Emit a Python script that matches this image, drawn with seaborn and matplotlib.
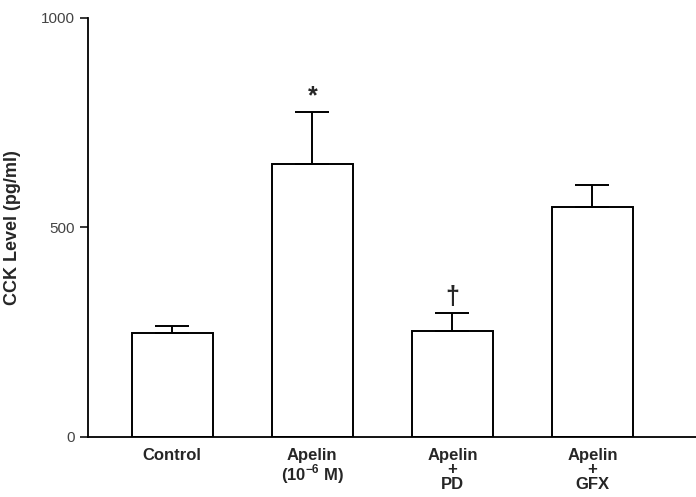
import numpy as np
import pandas as pd
import matplotlib
matplotlib.use("Agg")
import matplotlib.pyplot as plt
import seaborn as sns

# values
groups = ["Control", "Apelin\n(10$^{\\mathsf{-6}}$ M)", "Apelin\n+\nPD", "Apelin\n+\nGFX"]
cck_mean = [248, 652, 253, 549]
cck_sem = [17, 124, 43, 52]
marks = ["", "*", "\u2020", ""]

df = pd.DataFrame({"group": groups, "cck": cck_mean})

sns.set_style("ticks")
plt.rcParams["font.family"] = ["Liberation Sans", "DejaVu Sans"]
plt.rcParams["mathtext.fontset"] = "custom"
plt.rcParams["mathtext.sf"] = "Liberation Sans:bold"

fig = plt.figure(figsize=(6.96, 4.97), dpi=100)
ax = fig.add_axes([0.126, 0.121, 0.874, 0.843])

sns.barplot(data=df, x="group", y="cck", color="white", edgecolor="black",
            linewidth=1.4, width=0.58, ax=ax)

x = np.arange(len(groups))
ax.errorbar(x, cck_mean, yerr=[np.zeros(len(cck_sem)), cck_sem], fmt="none",
            ecolor="black", elinewidth=1.4, capsize=12.5, capthick=1.4)

for xi, m, s, lab in zip(x, cck_mean, cck_sem, marks):
    if lab:
        ax.text(xi, m + s + 8, lab, ha="center", va="bottom",
                fontsize=18, fontweight="bold")

ax.set_xlim(-0.604, 3.74)
ax.set_ylim(0, 1000)
ax.set_yticks([0, 500, 1000])
ax.tick_params(axis="y", length=6, width=1.3, labelsize=11, labelcolor="#444444")
ax.tick_params(axis="x", length=0, pad=8)
for t in ax.get_xticklabels():
    t.set_fontweight("bold")
    t.set_fontsize(12)
    t.set_linespacing(0.95)

ax.set_xlabel("")
ax.set_ylabel("CCK Level (pg/ml)", fontsize=13, fontweight="bold", labelpad=14)

sns.despine(ax=ax)
for sp in ["left", "bottom"]:
    ax.spines[sp].set_linewidth(1.3)
    ax.spines[sp].set_color("black")

fig.savefig("out.png", dpi=100)
